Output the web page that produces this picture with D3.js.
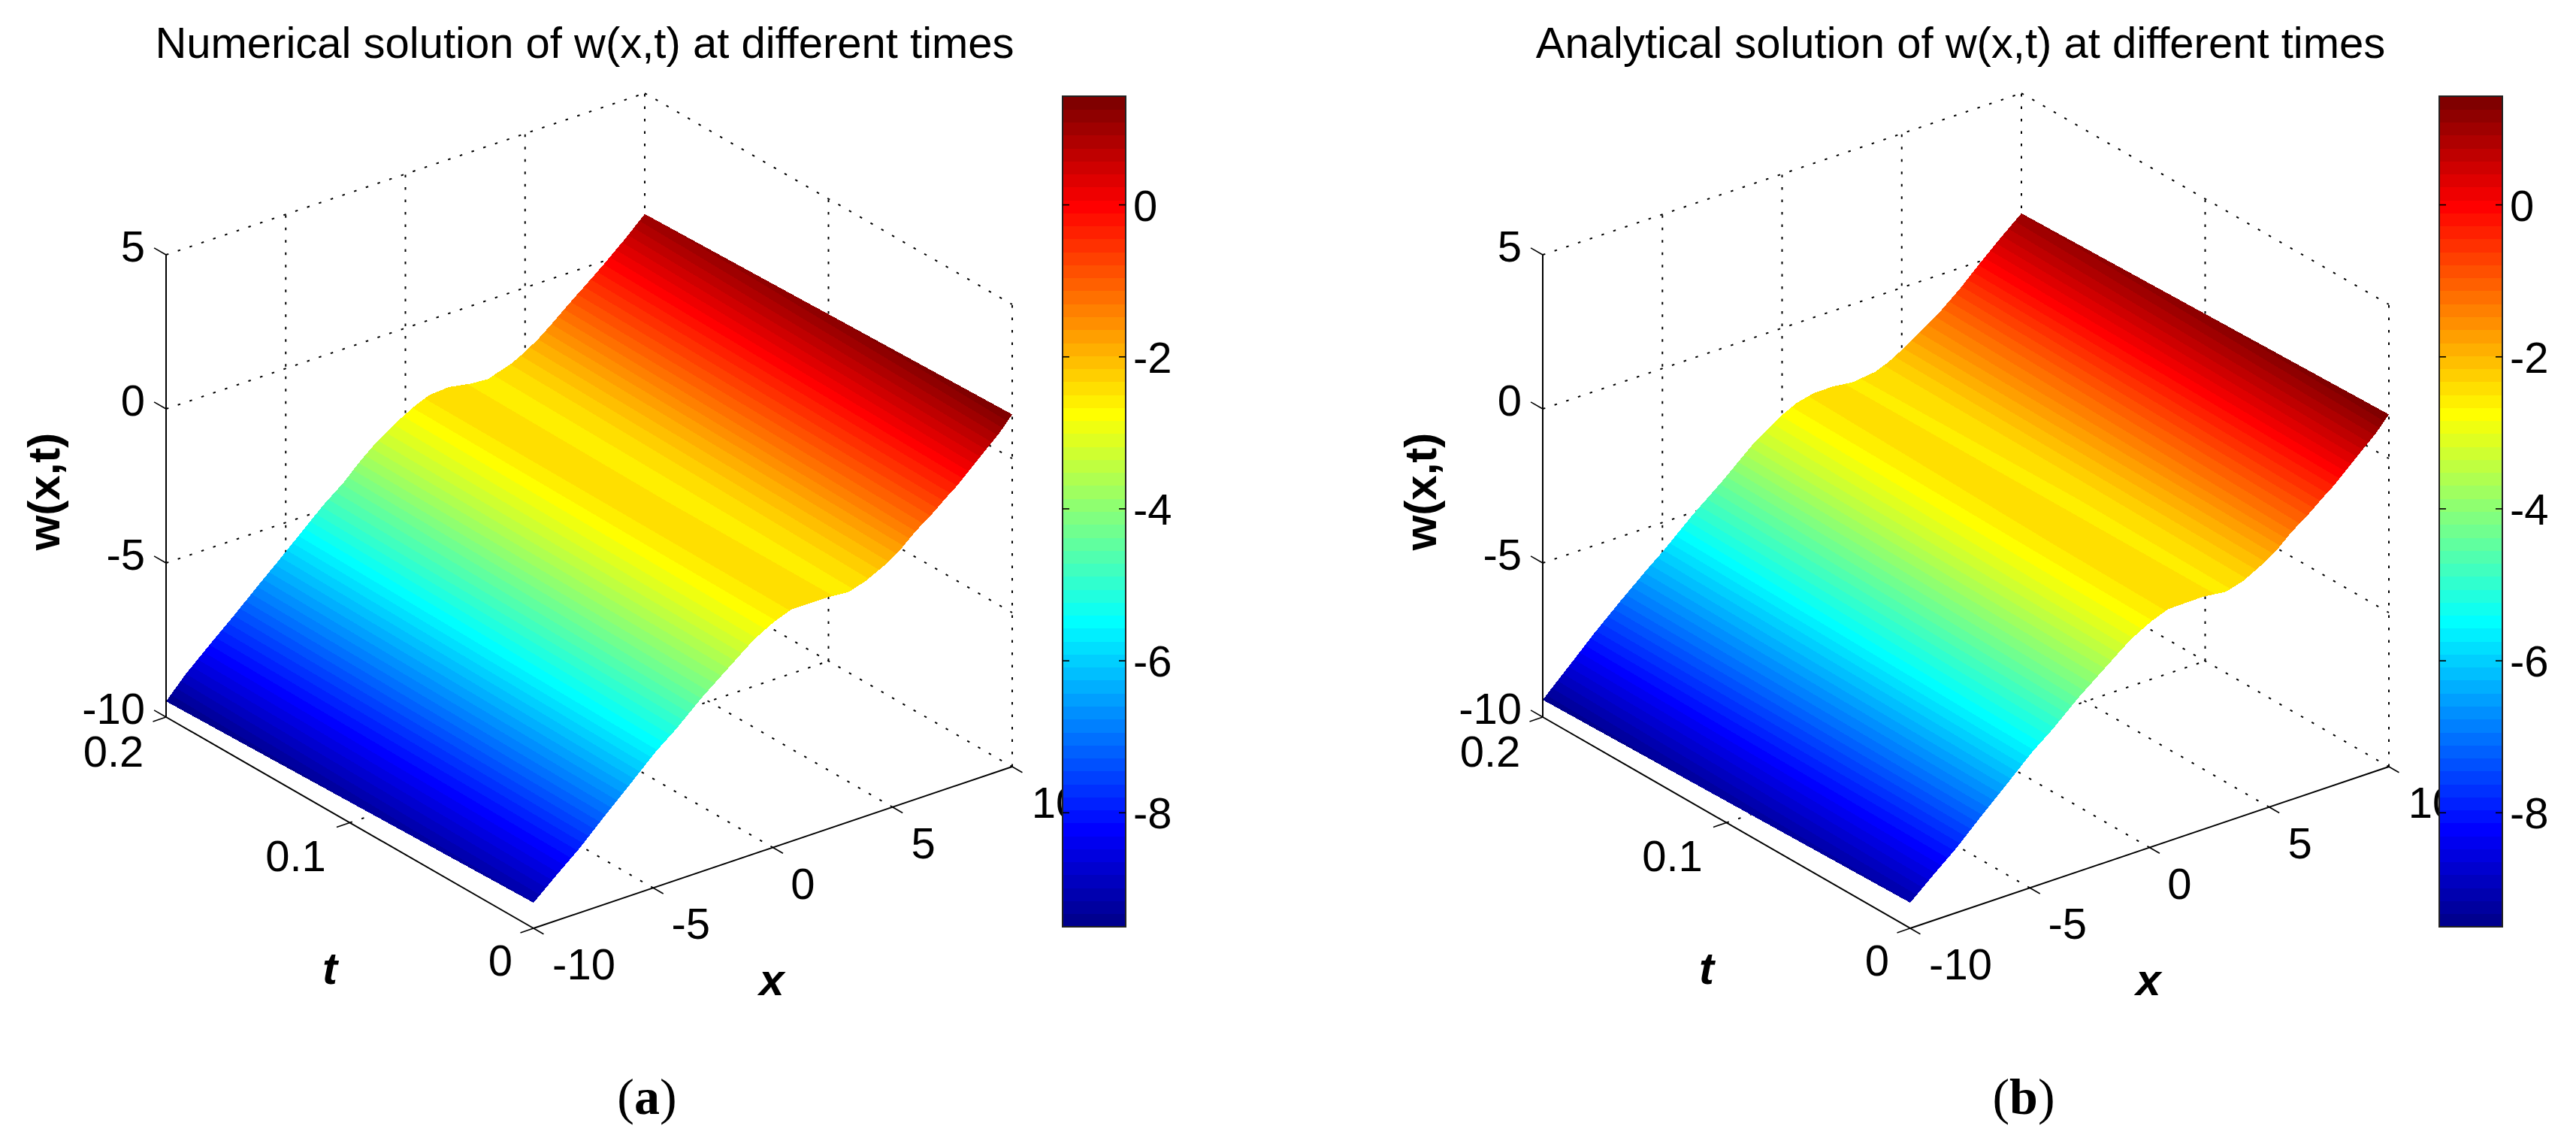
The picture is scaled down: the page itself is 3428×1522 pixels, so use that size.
<!DOCTYPE html>
<html><head><meta charset="utf-8">
<script src="https://cdn.jsdelivr.net/npm/d3@7/dist/d3.min.js"></script>
<style>html,body{margin:0;padding:0;background:#fff}svg{display:block}text{font-family:"Liberation Sans",Arial,sans-serif;fill:#000}</style>
</head><body><svg id="c" width="3428" height="1522"></svg>
<script>
// ---- values ----
const titles = ["Numerical solution of w(x,t) at different times","Analytical solution of w(x,t) at different times"];
const captions = ["a","b"];
const xTicks = [-10,-5,0,5,10];
const tTicks = [0,0.1,0.2];
const tTickLabels = ["0","0.1","0.2"];
const zTicks = [-10,-5,0,5];
const cbTicks = [-8,-6,-4,-2,0];
const cbRange = [-9.5,1.43];

const xNumT02 = [-10,-9.18,-8.15,-7.11,-6.17,-5.32,-4.38,-3.44,-2.59,-1.96,-1.24,-0.36,0.42,1.02,1.81,2.75,3.47,3.78,4.41,4.95,5.51,6.08,6.51,6.92,7.46,7.93,8.40,8.74,9.12,9.50,10];
const wNumT02 = [-9.49,-8.82,-8.11,-7.41,-6.75,-6.17,-5.51,-4.85,-4.34,-3.87,-3.40,-2.95,-2.62,-2.43,-2.39,-2.52,-2.56,-2.47,-2.32,-2.10,-1.83,-1.49,-1.21,-0.95,-0.62,-0.33,-0.03,0.20,0.45,0.72,1.08];
const xNumT0 = [-10,-9.06,-8.05,-6.95,-5.92,-4.88,-4.03,-3.0,-1.93,-0.8,0.05,0.77,2.24,3.19,3.91,4.66,5.38,5.95,6.64,7.27,7.68,8.30,8.84,9.47,10];
const wNumT0 = [-9.17,-8.54,-7.89,-7.08,-6.35,-5.60,-5.09,-4.38,-3.73,-3.05,-2.69,-2.48,-2.48,-2.54,-2.36,-2.07,-1.70,-1.31,-0.93,-0.53,-0.29,0.15,0.53,0.97,1.43];
const xAnaT02 = [-10,-8.78,-7.83,-6.73,-5.64,-4.98,-3.75,-2.51,-1.15,-0.05,0.61,1.30,2.12,2.94,3.88,4.44,4.98,5.79,6.61,7.43,8.24,9.18,10];
const wAnaT02 = [-9.44,-8.54,-7.83,-7.07,-6.35,-5.94,-5.09,-4.32,-3.40,-2.84,-2.59,-2.46,-2.45,-2.53,-2.44,-2.27,-2.03,-1.61,-1.19,-0.67,-0.08,0.57,1.10];
const xAnaT0 = [-10,-9.06,-8.05,-6.95,-5.92,-4.88,-4.03,-3.0,-1.93,-0.8,0.05,0.77,2.24,3.19,3.91,4.66,5.38,5.95,6.64,7.27,7.68,8.30,8.84,9.47,10];
const wAnaT0 = [-9.17,-8.54,-7.89,-7.08,-6.35,-5.60,-5.09,-4.38,-3.73,-3.05,-2.69,-2.47,-2.45,-2.54,-2.38,-2.07,-1.70,-1.31,-0.93,-0.53,-0.29,0.15,0.53,0.97,1.43];

// ---- scales of the 3-D view ----
const W=[0,1832];
const ox=710, oy=1235;
const xToX=d3.scaleLinear().domain([-10,10]).range([0,637]);
const xToY=d3.scaleLinear().domain([-10,10]).range([0,-215]);
const tToX=d3.scaleLinear().domain([0,0.2]).range([0,-489]);
const tToY=d3.scaleLinear().domain([0,0.2]).range([0,-281]);
const zToY=d3.scaleLinear().domain([-10,5]).range([0,-615]);
const P=(x,t,z)=>[ox+xToX(x)+tToX(t), oy+xToY(x)+tToY(t)+zToY(z)];
const cbY=d3.scaleLinear().domain(cbRange).range([1233,128]);

function jet(i){ // 64-level jet
  const v=(i+1)/64*4; // 0..4
  const f=c=>Math.max(0,Math.min(1,Math.min(v-c+1.5,-v+c+1.5)));
  return d3.rgb(255*f(3),255*f(2),255*f(1)).formatHex();
}
const NB=64, step=(cbRange[1]-cbRange[0])/NB;

function clip(poly,keep){
  const out=[];
  for(let i=0;i<poly.length;i++){
    const a=poly[i],b=poly[(i+1)%poly.length];
    const da=keep(a.z),db=keep(b.z);
    if(da>=0) out.push(a);
    if((da>=0)!==(db>=0)){
      const u=da/(da-db);
      out.push({x:a.x+(b.x-a.x)*u,t:a.t+(b.t-a.t)*u,z:a.z+(b.z-a.z)*u});
    }
  }
  return out;
}
const line=d3.line();
const svg=d3.select("#c");

function drawPanel(k,x0,w0,x2,w2){
  const g=svg.append("g").attr("transform",`translate(${W[k]},0)`);
  const dotted=(a,b)=>g.append("path").attr("d",line([a,b])).attr("fill","none").attr("stroke","#000").attr("stroke-width",2).attr("stroke-dasharray","3.5 13");
  const solid=(a,b,w)=>g.append("path").attr("d",line([a,b])).attr("fill","none").attr("stroke","#000").attr("stroke-width",w);

  // walls and floor
  zTicks.forEach(z=>{
    if(z>-10) dotted(P(-10,0.2,z),P(10,0.2,z));
    dotted(P(10,0.2,z),P(10,0,z));
  });
  xTicks.forEach(x=>{
    if(x>-10){ dotted(P(x,0.2,-10),P(x,0.2,5)); }
    if(x>-10&&x<10){ dotted(P(x,0,-10),P(x,0.2,-10)); }
  });
  tTicks.forEach(t=>{
    if(t<0.2) dotted(P(10,t,-10),P(10,t,5));
    if(t===0.1) dotted(P(-10,t,-10),P(10,t,-10));
  });

  // surface, one path per colormap level
  const s0=d3.scaleLinear().domain(x0).range(w0), s2=d3.scaleLinear().domain(x2).range(w2);
  const xs=Array.from(new Set([...x0,...x2])).sort(d3.ascending);
  const paths=d3.range(NB).map(()=>[]);
  const addTri=tri=>{
    const zs=tri.map(p=>p.z);
    const a=Math.max(0,Math.floor((d3.min(zs)-cbRange[0])/step));
    const b=Math.min(NB-1,Math.floor((d3.max(zs)-cbRange[0])/step));
    for(let i=a;i<=b;i++){
      const lo=i===0?-1e9:cbRange[0]+i*step, hi=i===NB-1?1e9:cbRange[0]+(i+1)*step;
      let poly=clip(tri,z=>z-lo); if(poly.length<3) continue;
      poly=clip(poly,z=>hi-z); if(poly.length<3) continue;
      paths[i].push(line(poly.map(p=>P(p.x,p.t,p.z)))+"Z");
    }
  };
  for(let i=0;i<xs.length-1;i++){
    const a={x:xs[i],t:0,z:s0(xs[i])},b={x:xs[i+1],t:0,z:s0(xs[i+1])},
          c={x:xs[i+1],t:0.2,z:s2(xs[i+1])},d={x:xs[i],t:0.2,z:s2(xs[i])};
    addTri([a,b,c]); addTri([a,c,d]);
  }
  g.append("g").attr("shape-rendering","crispEdges").selectAll("path").data(d3.range(NB)).join("path")
    .attr("d",i=>paths[i].join("")).attr("fill",i=>jet(i));

  // solid axes and ticks
  solid(P(-10,0.2,-10),P(-10,0.2,5),2);
  solid(P(-10,0.2,-10),P(-10,0,-10),2);
  solid(P(-10,0,-10),P(10,0,-10),2);
  zTicks.forEach(z=>solid(P(-10,0.2,z),P(-10,0.2065,z),1.6));
  xTicks.forEach(x=>solid(P(x,0,-10),P(x,-0.0055,-10),1.6));
  tTicks.forEach(t=>solid(P(-10,t,-10),P(-10.55,t,-10),1.6));

  // tick labels
  const fs=58;
  zTicks.forEach(z=>g.append("text").attr("x",P(-10,0.2,z)[0]-28).attr("y",P(-10,0.2,z)[1]+9).attr("text-anchor","end").attr("font-size",fs).text(z));
  const tOff=[-44,-72,-70], tBase=[63,64,66];
  tTicks.forEach((t,i)=>g.append("text").attr("x",P(-10,t,-10)[0]+tOff[i]).attr("y",P(-10,t,-10)[1]+tBase[i]).attr("text-anchor","middle").attr("font-size",fs).text(tTickLabels[i]));
  const xOff=[67,50,40,41,58];
  xTicks.forEach((x,i)=>g.append("text").attr("x",P(x,0,-10)[0]+xOff[i]).attr("y",P(x,0,-10)[1]+68).attr("text-anchor","middle").attr("font-size",fs).text(x));

  // axis labels
  g.append("text").attr("transform","translate(79,654) rotate(-90)").attr("text-anchor","middle").attr("font-weight","bold").attr("font-size",60).text("w(x,t)");
  g.append("text").attr("x",439).attr("y",1309).attr("text-anchor","middle").attr("font-weight","bold").attr("font-style","italic").attr("font-size",60).text("t");
  g.append("text").attr("x",1027).attr("y",1324).attr("text-anchor","middle").attr("font-weight","bold").attr("font-style","italic").attr("font-size",60).text("x");

  // title
  g.append("text").attr("x",k===0?778:777).attr("y",77).attr("text-anchor","middle").attr("font-size",58).text(titles[k]);

  // caption
  const cap=g.append("text").attr("x",861).attr("y",1482).attr("text-anchor","middle").attr("font-size",68).style("font-family",'"Liberation Serif",serif');
  cap.append("tspan").text("(");
  cap.append("tspan").attr("font-weight","bold").text(captions[k]);
  cap.append("tspan").text(")");

  // colorbar
  const cb=g.append("g");
  cb.append("g").attr("shape-rendering","crispEdges").selectAll("rect").data(d3.range(NB)).join("rect")
    .attr("x",1414).attr("width",84)
    .attr("y",i=>cbY(cbRange[0]+(i+1)*step)).attr("height",i=>cbY(cbRange[0]+i*step)-cbY(cbRange[0]+(i+1)*step)+0.5)
    .attr("fill",i=>jet(i));
  cb.append("rect").attr("x",1414).attr("y",cbY(cbRange[1])).attr("width",84).attr("height",cbY(cbRange[0])-cbY(cbRange[1])).attr("fill","none").attr("stroke","#222").attr("stroke-width",2);
  cbTicks.forEach(v=>{
    cb.append("path").attr("d",line([[1414,cbY(v)],[1423,cbY(v)]])).attr("stroke","#000").attr("stroke-width",1.6);
    cb.append("path").attr("d",line([[1489,cbY(v)],[1498,cbY(v)]])).attr("stroke","#000").attr("stroke-width",1.6);
    g.append("text").attr("x",1508).attr("y",cbY(v)+21).attr("font-size",58).text(v);
  });
}
drawPanel(0,xNumT0,wNumT0,xNumT02,wNumT02);
drawPanel(1,xAnaT0,wAnaT0,xAnaT02,wAnaT02);
</script></body></html>
